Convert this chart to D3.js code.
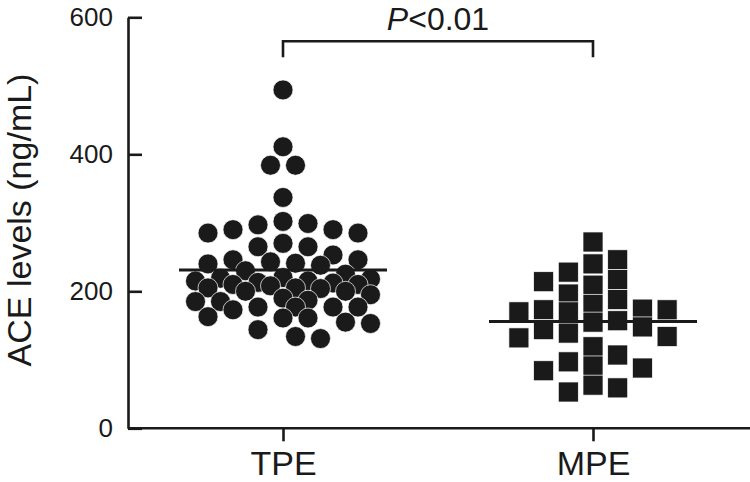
<!DOCTYPE html>
<html><head><meta charset="utf-8">
<script src="https://cdn.jsdelivr.net/npm/d3@7/dist/d3.min.js"></script>
<style>html,body{margin:0;padding:0;background:#fff;} svg{display:block;}</style>
</head><body><svg id="chart" width="750" height="482"></svg>
<script>
// ---- data ----
const categories = ["TPE", "MPE"];
const tpeValues = [494, 411, 384, 384, 337,
  302, 299, 297, 290, 290, 285, 285,
  270, 265, 265,
  253, 246, 246, 243, 241, 240, 238,
  230, 225, 220, 219, 218, 215, 215, 213, 212, 210, 210, 208, 205, 205, 204, 200, 200, 195, 190,
  187, 185, 185, 177, 177, 177, 177, 173,
  163, 161, 161, 155, 153,
  144, 134, 131];
const mpeValues = [272, 246, 240, 228, 217, 214, 209, 196, 188, 181,
  174, 173, 173, 170, 170, 157, 155, 148, 144, 139, 134, 132,
  119, 107, 97, 91, 88, 84, 63, 59, 53];
const meanValues = [231, 156];
const yTicks = [0, 200, 400, 600];
const yLabel = "ACE levels (ng/mL)";
const pItalic = "P", pRest = "<0.01";
const bracketValue = 565;

// ---- drawing ----
const svg = d3.select("#chart");
const ink = "#1a1a1a";
const font = "'Liberation Sans', Arial, Helvetica, sans-serif";
const y = d3.scaleLinear().domain([0, 600]).range([428.3, 17.3]);
const x = d3.scalePoint().domain(categories).range([128, 748]).padding(0.5);

function swarm(values, opts) {
  const order = values.map((v, i) => i).sort((a, b) => values[b] - values[a]);
  const placed = [];
  const out = new Array(values.length);
  let balance = 0;
  for (const i of order) {
    const py = y(values[i]);
    const cands = [0];
    for (let k = 1; k <= opts.maxK; k++) {
      if (balance > 0) cands.push(-k, k); else cands.push(k, -k);
    }
    let best = 0, bestScore = -Infinity;
    for (const k of cands) {
      const px = k * opts.step;
      let score = Infinity;
      for (const p of placed) score = Math.min(score, opts.sep(px - p.x, py - p.y));
      if (score >= 0) { best = px; bestScore = score; break; }
      if (score > bestScore + 0.5) { bestScore = score; best = px; }
    }
    balance += Math.sign(best);
    placed.push({x: best, y: py});
    out[i] = best;
  }
  return out;
}

const r = 10, sq = 20;
const tpeOff = swarm(tpeValues, {step: 12.5, maxK: 7,
  sep: (dx, dy) => Math.hypot(dx, dy) - 19});
const mpeOff = swarm(mpeValues, {step: 24.7, maxK: 3,
  sep: (dx, dy) => Math.max(Math.abs(dx) - 20, Math.abs(dy) - 18)});

// axes
const yAxis = d3.axisLeft(y).tickValues(yTicks).tickSize(-14).tickPadding(15).tickSizeOuter(0);
const gy = svg.append("g").attr("transform", "translate(128,0)").call(yAxis);
gy.select(".domain").attr("stroke", ink).attr("stroke-width", 2.6);
gy.selectAll(".tick line").attr("stroke", ink).attr("stroke-width", 2.6);
gy.selectAll(".tick text").attr("font-family", font).attr("font-size", 26).attr("fill", ink);

const xAxis = d3.axisBottom(x).tickSize(13).tickPadding(9).tickSizeOuter(0);
const gx = svg.append("g").attr("transform", "translate(0,428.3)").call(xAxis);
gx.select(".domain").attr("stroke", ink).attr("stroke-width", 2.6).attr("d", "M128,0H750");
gx.selectAll(".tick line").attr("stroke", ink).attr("stroke-width", 2.6);
gx.selectAll(".tick text").attr("font-family", font).attr("font-size", 34).attr("fill", ink)
  .attr("dy", null).attr("y", 46.5);

// y label
svg.append("text").attr("transform", "translate(31,220) rotate(-90)")
  .attr("text-anchor", "middle").attr("font-family", font).attr("font-size", 34)
  .attr("fill", ink).text(yLabel);

// points
svg.append("g").selectAll("circle").data(tpeValues).join("circle")
  .attr("cx", (d, i) => x("TPE") + tpeOff[i]).attr("cy", d => y(d)).attr("r", r)
  .attr("fill", ink).attr("stroke", "#fff").attr("stroke-width", 0.7);
svg.append("g").selectAll("rect").data(mpeValues).join("rect")
  .attr("x", (d, i) => x("MPE") + mpeOff[i] - sq / 2).attr("y", d => y(d) - sq / 2)
  .attr("width", sq).attr("height", sq)
  .attr("fill", ink).attr("stroke", "#fff").attr("stroke-width", 0.7);

// mean lines
svg.append("g").selectAll("line").data(meanValues).join("line")
  .attr("x1", (d, i) => x(categories[i]) - 104).attr("x2", (d, i) => x(categories[i]) + 104)
  .attr("y1", d => y(d)).attr("y2", d => y(d))
  .attr("stroke", ink).attr("stroke-width", 3);

// significance bracket
const by = y(bracketValue);
svg.append("path")
  .attr("d", `M${x("TPE")},${by + 16}V${by}H${x("MPE")}V${by + 16}`)
  .attr("fill", "none").attr("stroke", ink).attr("stroke-width", 2.6);
const pt = svg.append("text").attr("x", (x("TPE") + x("MPE")) / 2).attr("y", 29.5)
  .attr("text-anchor", "middle").attr("font-family", font).attr("font-size", 32).attr("fill", ink);
pt.append("tspan").attr("font-style", "italic").text(pItalic);
pt.append("tspan").text(pRest);
</script></body></html>
